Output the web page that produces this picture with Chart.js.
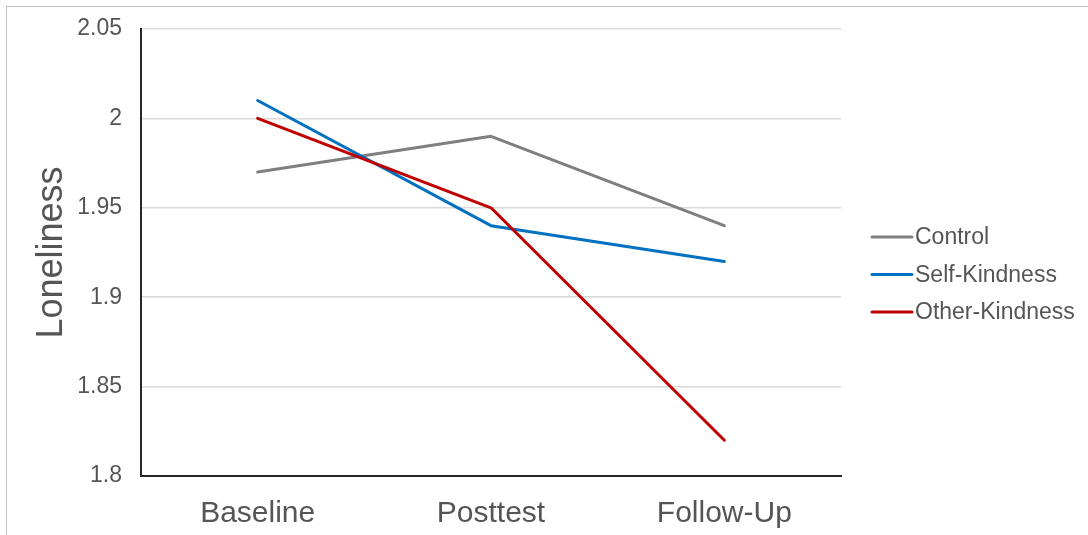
<!DOCTYPE html>
<html>
<head>
<meta charset="utf-8">
<script src="https://cdn.jsdelivr.net/npm/chart.js@4"></script>
<style>
  html, body { margin: 0; padding: 0; background: #fff; overflow: hidden; }
  #wrap { position: relative; width: 1088px; height: 535px; }
  #frame { position: absolute; left: 6px; top: 6px; width: 1100px; height: 550px;
           border-left: 1.5px solid #c4c4c4; border-top: 1.5px solid #c4c4c4; box-sizing: border-box; }
  canvas { position: absolute; left: 0; top: 0; }
</style>
</head>
<body>
<div id="wrap">
  <div id="frame"></div>
  <canvas id="c" width="1088" height="535"></canvas>
</div>
<script>
const FONT = '"Liberation Sans", Arial, Helvetica, sans-serif';
const TEXT = '#555555';

// Measurement occasions
const categories = ['Baseline', 'Posttest', 'Follow-Up'];

// Mean loneliness per condition
const controlValues = [1.97, 1.99, 1.94];
const selfKindnessValues = [2.01, 1.94, 1.92];
const otherKindnessValues = [2.00, 1.95, 1.82];

// Value axis labels, bottom to top
const yTickLabels = ['1.8', '1.85', '1.9', '1.95', '2', '2.05'];

const seriesNames = ['Control', 'Self-Kindness', 'Other-Kindness'];
const seriesColors = ['#7f7f7f', '#0070c0', '#c00000'];

// Legend drawn as short line samples followed by the series name
const lineLegend = {
  id: 'lineLegend',
  afterDraw(chart, args, opts) {
    const ctx = chart.ctx;
    const area = chart.chartArea;
    ctx.save();
    ctx.font = opts.fontSize + 'px ' + FONT;
    ctx.textBaseline = 'middle';
    ctx.textAlign = 'left';
    chart.data.datasets.forEach((ds, i) => {
      const y = opts.top + i * opts.rowGap;
      const x0 = area.right + opts.offsetX;
      ctx.strokeStyle = ds.borderColor;
      ctx.lineWidth = 3;
      ctx.lineCap = 'round';
      ctx.beginPath();
      ctx.moveTo(x0, y);
      ctx.lineTo(x0 + opts.sampleWidth, y);
      ctx.stroke();
      ctx.fillStyle = TEXT;
      ctx.fillText(ds.label, x0 + opts.sampleWidth + opts.gap, y + 1);
    });
    ctx.restore();
  }
};

const valueSets = [controlValues, selfKindnessValues, otherKindnessValues];
const datasets = valueSets.map((vals, i) => ({
  label: seriesNames[i],
  data: vals,
  borderColor: seriesColors[i],
  backgroundColor: seriesColors[i],
  borderWidth: 3,
  borderCapStyle: 'round',
  borderJoinStyle: 'round',
  pointRadius: 0,
  pointHoverRadius: 0,
  tension: 0,
  order: valueSets.length - i
}));

new Chart(document.getElementById('c'), {
  type: 'line',
  data: { labels: categories, datasets },
  options: {
    responsive: false,
    animation: false,
    events: [],
    layout: { padding: { left: 0, top: 29, right: 247, bottom: 0 } },
    plugins: {
      legend: { display: false },
      tooltip: { enabled: false },
      lineLegend: { top: 237, rowGap: 37.5, offsetX: 31, sampleWidth: 40, gap: 3, fontSize: 23 }
    },
    scales: {
      x: {
        offset: true,
        grid: { display: false, drawTicks: false },
        border: { display: true, color: '#262626', width: 2 },
        ticks: { color: TEXT, font: { family: FONT, size: 30 }, padding: 20, maxRotation: 0 },
        afterFit(scale) { scale.height = 59; }
      },
      y: {
        min: 1.8,
        max: 2.05,
        grid: { color: '#d9d9d9', lineWidth: 1.5, drawTicks: false },
        border: { display: true, color: '#262626', width: 2 },
        ticks: {
          stepSize: 0.05,
          color: TEXT,
          font: { family: FONT, size: 23 },
          padding: 19,
          callback: (v, i) => yTickLabels[i]
        },
        title: {
          display: true,
          text: 'Loneliness',
          color: TEXT,
          font: { family: FONT, size: 36 },
          padding: { top: 30, bottom: 0 }
        },
        afterFit(scale) {
          scale.width = 141;
          scale.paddingTop = 0;
          scale.paddingBottom = 0;
        }
      }
    }
  },
  plugins: [lineLegend]
});
</script>
</body>
</html>
